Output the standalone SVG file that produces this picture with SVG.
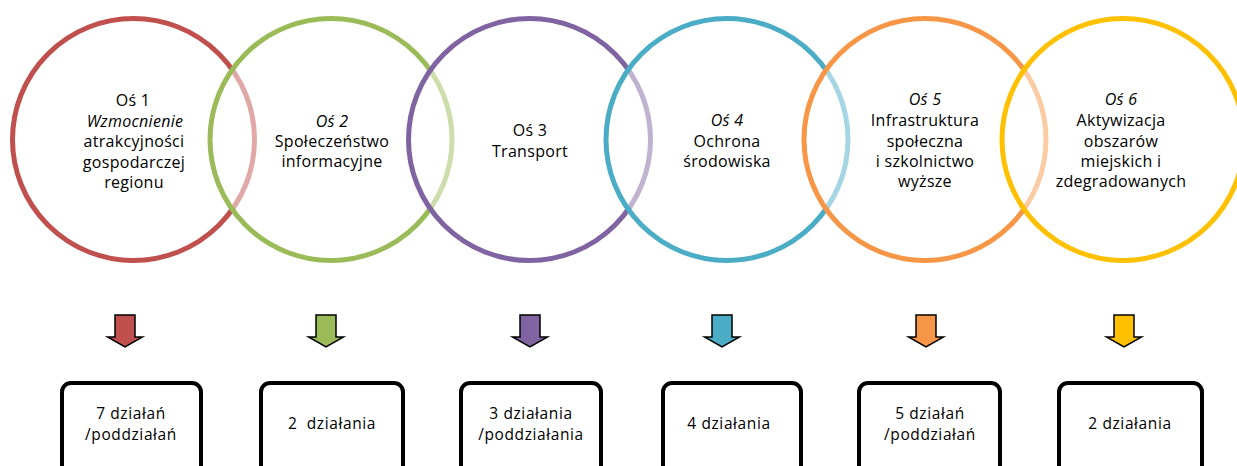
<svg xmlns="http://www.w3.org/2000/svg" width="1237" height="466" viewBox="0 0 1237 466">
<style>
.c{fill:#fff;fill-opacity:0.5;stroke-width:5}
.t{font-family:"Open Sans","Liberation Sans",sans-serif;font-size:16px;font-weight:normal;fill:#000;text-anchor:middle;letter-spacing:0.3px}
.s{font-size:15.5px;letter-spacing:0.6px}
.i{font-style:italic}
.b{fill:#fff;stroke:#000;stroke-width:4}
.a{stroke:#000;stroke-width:1.5;stroke-linejoin:miter}
</style>
<rect width="1237" height="466" fill="#fff"/>
<g id="os1">
<circle class="c" cx="133.5" cy="139.5" r="121" stroke="#C0504D"/>
<text class="t" x="133" y="106">Oś 1</text>
<text class="t i" x="135" y="127">Wzmocnienie</text>
<text class="t" x="134" y="147">atrakcyjności</text>
<text class="t" x="134" y="168">gospodarczej</text>
<text class="t" x="134" y="188">regionu</text>
</g>
<g id="os2">
<circle class="c" cx="331" cy="139.5" r="121" stroke="#9BBB59"/>
<text class="t i" x="332" y="127">Oś 2</text>
<text class="t" x="332" y="147">Społeczeństwo</text>
<text class="t" x="332" y="167">informacyjne</text>
</g>
<g id="os3">
<circle class="c" cx="529.5" cy="139.5" r="121" stroke="#8064A2"/>
<text class="t" x="530" y="136">Oś 3</text>
<text class="t" x="530" y="157">Transport</text>
</g>
<g id="os4">
<circle class="c" cx="727" cy="139.5" r="121" stroke="#4BACC6"/>
<text class="t i" x="727" y="126">Oś 4</text>
<text class="t" x="727" y="147">Ochrona</text>
<text class="t" x="727" y="167">środowiska</text>
</g>
<g id="os5">
<circle class="c" cx="925" cy="139.5" r="121" stroke="#F79646"/>
<text class="t i" x="925" y="105">Oś 5</text>
<text class="t" x="925" y="126">Infrastruktura</text>
<text class="t" x="925" y="147">społeczna</text>
<text class="t" x="925" y="167">i szkolnictwo</text>
<text class="t" x="925" y="187">wyższe</text>
</g>
<g id="os6">
<circle class="c" cx="1123" cy="139.5" r="121" stroke="#FFC000"/>
<text class="t i" x="1121" y="105">Oś 6</text>
<text class="t" x="1121" y="126">Aktywizacja</text>
<text class="t" x="1121" y="147">obszarów</text>
<text class="t" x="1121" y="167">miejskich i</text>
<text class="t" x="1121" y="187">zdegradowanych</text>
</g>
<g id="connectors">
<polygon class="a" fill="#C0504D" points="115,315 135,315 135,337 142.5,337 125,347 107.5,337 115,337"/>
<polygon class="a" fill="#9BBB59" points="316,315 336,315 336,337 343.5,337 326,347 308.5,337 316,337"/>
<polygon class="a" fill="#8064A2" points="520,315 540,315 540,337 547.5,337 530,347 512.5,337 520,337"/>
<polygon class="a" fill="#4BACC6" points="712,315 732,315 732,337 739.5,337 722,347 704.5,337 712,337"/>
<polygon class="a" fill="#F79646" points="916,315 936,315 936,337 943.5,337 926,347 908.5,337 916,337"/>
<polygon class="a" fill="#FFC000" points="1114,315 1134,315 1134,337 1141.5,337 1124,347 1106.5,337 1114,337"/>
</g>
<g id="box1">
<rect class="b" x="62" y="383" width="139" height="100" rx="9"/>
<text class="t s" x="131" y="419">7 działań</text>
<text class="t s" x="131" y="440">/poddziałań</text>
</g>
<g id="box2">
<rect class="b" x="261" y="383" width="142" height="100" rx="9"/>
<text class="t s" x="332" y="429" style="white-space:pre">2  działania</text>
</g>
<g id="box3">
<rect class="b" x="461" y="383" width="140" height="100" rx="9"/>
<text class="t s" x="531" y="419">3 działania</text>
<text class="t s" x="531" y="440">/poddziałania</text>
</g>
<g id="box4">
<rect class="b" x="663" y="383" width="138" height="100" rx="9"/>
<text class="t s" x="729" y="429">4 działania</text>
</g>
<g id="box5">
<rect class="b" x="859" y="383" width="141" height="100" rx="9"/>
<text class="t s" x="930" y="419">5 działań</text>
<text class="t s" x="930" y="440">/poddziałań</text>
</g>
<g id="box6">
<rect class="b" x="1059" y="383" width="143" height="100" rx="9"/>
<text class="t s" x="1130" y="429">2 działania</text>
</g>
</svg>
